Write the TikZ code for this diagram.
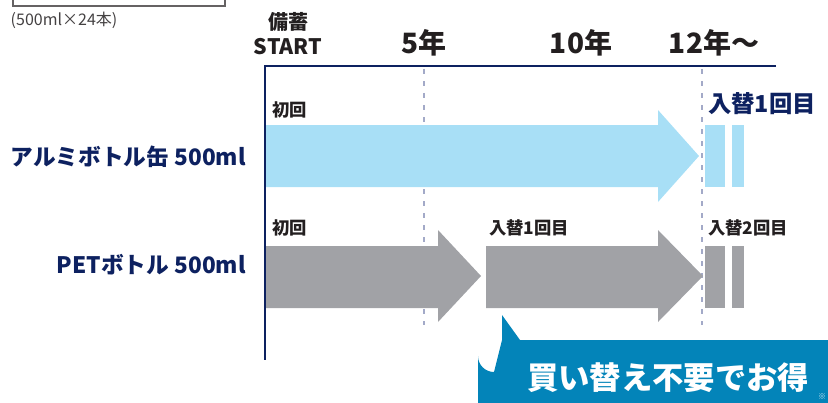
\documentclass[tikz,border=0pt]{standalone}
\usepackage{fontspec}
\setmainfont{Noto Sans CJK JP}
\newfontfamily\jpfont{Noto Sans CJK JP}
\definecolor{navy}{HTML}{0D2160}
\definecolor{ink}{HTML}{231F20}
\definecolor{skyfill}{HTML}{A8DFF6}
\definecolor{grayfill}{HTML}{A1A2A6}
\definecolor{calloutblue}{HTML}{0384B9}
\definecolor{dashcol}{HTML}{A3AAC8}
\begin{document}
\begin{tikzpicture}[x=0.75pt,y=-0.75pt,
  lbl/.style={inner sep=0pt, font=\jpfont\bfseries, text=ink},
  yearlbl/.style={lbl, font=\jpfont\bfseries\fontsize{21}{24}\selectfont},
  smalllbl/.style={lbl, anchor=west, font=\jpfont\bfseries\fontsize{13}{15}\selectfont},
  rowlbl/.style={lbl, anchor=east, text=navy, font=\jpfont\bfseries\fontsize{17}{20}\selectfont},
  guide/.style={draw=dashcol, line width=0.9pt, dash pattern=on 4pt off 5pt},
  axisline/.style={draw=navy, line width=2.2pt},
  skyshape/.style={fill=skyfill},
  grayshape/.style={fill=grayfill}]
\useasboundingbox (0,0) rectangle (828,403);

% top-left box remnant
\draw[draw=ink!70, line width=0.8pt] (13,-5) -- (13,6) -- (225,6) -- (225,-5);
\node[lbl, font=\jpfont\fontsize{12}{14}\selectfont, text=ink!85] (pack) at (64,20) {(500ml×24本)};

% headers
\node[lbl, font=\jpfont\bfseries\fontsize{15}{17}\selectfont] (bichiku) at (288,22) {備蓄};
\node[lbl, font=\jpfont\bfseries\fontsize{16}{18}\selectfont] (start) at (288,47) {START};
\node[yearlbl] (y5) at (424,43) {5年};
\node[yearlbl] (y10) at (581,43) {10年};
\node[yearlbl] (y12) at (714,43) {12年〜};

% guides
\coordinate (g5t) at (424,69); \coordinate (g5b) at (424,325);
\coordinate (g12t) at (702,69); \coordinate (g12b) at (702,325);
\draw[guide] (g5t) -- (g5b);
\draw[guide] (g12t) -- (g12b);

% row 1 (aluminium)
\fill[skyshape] (265,125) -- (658,125) -- (658,110) -- (699,156) -- (658,202) -- (658,187) -- (265,187) -- cycle;
\fill[skyshape] (705,125) rectangle (725,187);
\fill[skyshape] (732,125) rectangle (744,187);
\node[smalllbl] (first1) at (272,110) {初回};
\node[lbl, anchor=west, text=navy, font=\jpfont\bfseries\fontsize{17.5}{20}\selectfont] (repl1big) at (708,104) {入替1回目};

% row 2 (PET)
\fill[grayshape] (265,246) -- (438,246) -- (438,230) -- (481,276) -- (438,322) -- (438,308) -- (265,308) -- cycle;
\fill[grayshape] (486,246) -- (658,246) -- (658,230) -- (703,276) -- (658,322) -- (658,308) -- (486,308) -- cycle;
\fill[grayshape] (705,246) rectangle (725,308);
\fill[grayshape] (732,246) rectangle (744,308);
\node[smalllbl] (first2) at (272,228) {初回};
\node[smalllbl] (repl1) at (489,228) {入替1回目};
\node[smalllbl] (repl2) at (708,228) {入替2回目};

% row labels
\node[rowlbl] (alu) at (246,157) {アルミボトル缶 500ml};
\node[rowlbl] (pet) at (246,265) {PETボトル 500ml};

% axes
\coordinate (origin) at (265,66);
\coordinate (xend) at (776,66);
\coordinate (yend) at (265,360);
\draw[axisline] (xend) -- (origin) -- (yend);

% callout
\fill[calloutblue] (478,410) -- (478,356) arc[start angle=180, end angle=90, radius=16] -- (502,340) -- (502,315) -- (520,340) -- (835,340) -- (835,410) -- cycle;
\node[lbl, text=white, font=\jpfont\bfseries\fontsize{23.5}{27}\selectfont] (tokutext) at (668,378) {買い替え不要でお得};
\node[lbl, text=white!80!calloutblue, font=\jpfont\fontsize{6}{7}\selectfont] (note) at (822,397) {※};
\end{tikzpicture}
\end{document}
